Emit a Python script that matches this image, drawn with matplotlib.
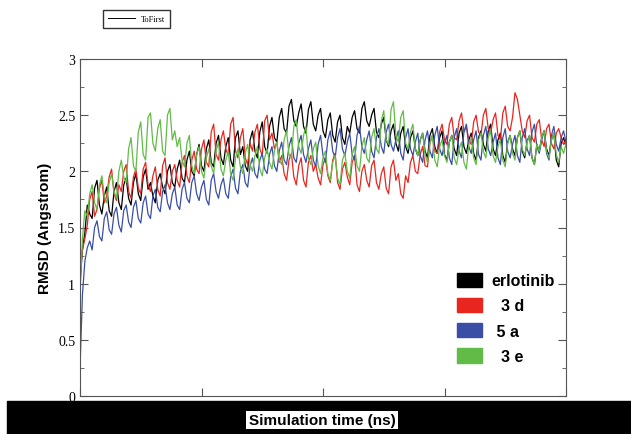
import numpy as np
import matplotlib
matplotlib.use("Agg")
import matplotlib.pyplot as plt
from matplotlib.lines import Line2D
from matplotlib.patches import Patch, Rectangle

# frames every 0.2 ns (t = 0, 0.2, ... 20) and the ones in between (t = 0.1, 0.3, ... 19.9)
t_main = np.round(np.arange(0, 20.01, 0.2), 2)
t_mid = np.round(np.arange(0.1, 20.0, 0.2), 2)

erlotinib = [1.00, 1.45, 1.62, 1.85, 1.70, 1.78, 1.65, 1.82, 1.72, 1.88,
             1.76, 1.90, 1.80, 1.95, 1.84, 1.78, 1.92, 1.86, 2.00, 1.90,
             2.02, 1.94, 2.10, 2.00, 2.15, 2.05, 2.20, 2.08, 2.25, 2.12,
             2.22, 2.10, 2.30, 2.15, 2.05, 2.28, 2.18, 2.35, 2.22, 2.40,
             2.30, 2.48, 2.38, 2.58, 2.45, 2.52, 2.40, 2.55, 2.42, 2.50,
             2.36, 2.46, 2.32, 2.44, 2.30, 2.40, 2.48, 2.38, 2.56, 2.45,
             2.50, 2.35, 2.42, 2.28, 2.36, 2.25, 2.34, 2.22, 2.30, 2.20,
             2.28, 2.18, 2.32, 2.22, 2.30, 2.15, 2.26, 2.20, 2.34, 2.22,
             2.28, 2.16, 2.30, 2.24, 2.36, 2.20, 2.28, 2.14, 2.26, 2.20,
             2.30, 2.18, 2.27, 2.12, 2.24, 2.30, 2.20, 2.28, 2.10, 2.25,
             2.22]
erlotinib_mid = [1.30, 1.70, 1.58, 1.92, 1.62, 1.86, 1.60, 1.90, 1.66, 1.94,
                 1.70, 1.98, 1.74, 2.02, 1.90, 1.72, 1.98, 1.80, 2.06, 1.86,
                 2.10, 1.90, 2.18, 1.96, 2.24, 2.00, 2.28, 2.04, 2.32, 2.06,
                 2.30, 2.04, 2.36, 2.22, 2.00, 2.36, 2.12, 2.44, 2.16, 2.48,
                 2.26, 2.56, 2.34, 2.64, 2.40, 2.60, 2.34, 2.62, 2.36, 2.56,
                 2.30, 2.52, 2.26, 2.50, 2.24, 2.34, 2.54, 2.34, 2.62, 2.40,
                 2.56, 2.30, 2.48, 2.22, 2.42, 2.18, 2.40, 2.16, 2.36, 2.14,
                 2.34, 2.12, 2.38, 2.16, 2.36, 2.10, 2.32, 2.14, 2.40, 2.16,
                 2.34, 2.10, 2.36, 2.18, 2.42, 2.14, 2.34, 2.08, 2.32, 2.14,
                 2.36, 2.12, 2.32, 2.06, 2.18, 2.36, 2.14, 2.34, 2.04, 2.30]

cmp_3d = [1.10, 1.40, 1.75, 1.60, 1.85, 1.72, 1.95, 1.80, 1.88, 2.00,
          1.82, 1.95, 1.85, 2.02, 1.88, 1.96, 1.84, 2.05, 1.90, 2.00,
          1.92, 2.08, 1.96, 2.10, 2.02, 2.20, 2.08, 2.35, 2.15, 2.28,
          2.20, 2.42, 2.18, 2.30, 2.12, 2.25, 2.35, 2.20, 2.45, 2.28,
          2.20, 2.08, 1.98, 2.10, 1.95, 2.05, 1.92, 2.08, 2.00, 1.94,
          2.06, 1.96, 2.10, 1.90, 2.02, 1.95, 2.08, 1.88, 2.00, 1.92,
          2.05, 1.90, 1.98, 1.85, 2.04, 1.92, 1.80, 1.96, 2.08, 2.00,
          2.15, 2.05, 2.25, 2.18, 2.35, 2.28, 2.42, 2.30, 2.45, 2.35,
          2.28, 2.44, 2.35, 2.50, 2.38, 2.46, 2.32, 2.52, 2.40, 2.48,
          2.64, 2.36, 2.45, 2.30, 2.42, 2.28, 2.38, 2.25, 2.34, 2.30,
          2.28]
cmp_3d_mid = [1.30, 1.52, 1.82, 1.66, 1.92, 1.78, 2.02, 1.74, 1.82, 2.06,
              1.76, 2.02, 1.80, 2.08, 1.82, 2.04, 1.78, 2.12, 1.84, 2.06,
              1.86, 2.14, 1.90, 2.18, 1.98, 2.28, 2.04, 2.42, 2.10, 2.36,
              2.14, 2.48, 2.12, 2.38, 2.06, 2.18, 2.42, 2.14, 2.50, 2.34,
              2.26, 2.14, 1.92, 2.16, 1.88, 2.12, 1.86, 2.14, 2.06, 1.88,
              2.12, 1.90, 2.16, 1.84, 2.08, 1.88, 2.14, 1.82, 2.06, 1.86,
              2.10, 1.84, 2.04, 1.80, 2.10, 1.98, 1.76, 1.90, 2.14, 1.98,
              2.22, 2.04, 2.32, 2.16, 2.42, 2.24, 2.48, 2.28, 2.52, 2.40,
              2.24, 2.50, 2.32, 2.56, 2.34, 2.52, 2.28, 2.58, 2.36, 2.70,
              2.50, 2.30, 2.50, 2.26, 2.46, 2.22, 2.42, 2.20, 2.38, 2.24]

cmp_5a = [0.25, 1.20, 1.38, 1.50, 1.42, 1.58, 1.48, 1.62, 1.52, 1.65,
          1.55, 1.68, 1.58, 1.72, 1.62, 1.78, 1.68, 1.82, 1.72, 1.80,
          1.70, 1.84, 1.76, 1.90, 1.80, 1.86, 1.75, 1.92, 1.82, 1.88,
          1.80, 1.95, 1.85, 2.00, 1.90, 2.05, 1.98, 2.10, 2.02, 2.15,
          2.05, 2.18, 2.10, 2.22, 2.12, 2.25, 2.15, 2.20, 2.10, 2.24,
          2.14, 2.28, 2.18, 2.30, 2.20, 2.26, 2.15, 2.32, 2.22, 2.28,
          2.18, 2.30, 2.22, 2.35, 2.24, 2.28, 2.16, 2.30, 2.20, 2.26,
          2.14, 2.28, 2.18, 2.32, 2.20, 2.25, 2.12, 2.30, 2.18, 2.35,
          2.22, 2.28, 2.15, 2.32, 2.20, 2.26, 2.12, 2.30, 2.18, 2.24,
          2.14, 2.30, 2.20, 2.35, 2.22, 2.28, 2.16, 2.32, 2.24, 2.30,
          2.26]
cmp_5a_mid = [0.90, 1.32, 1.30, 1.56, 1.38, 1.64, 1.44, 1.68, 1.46, 1.70,
              1.50, 1.74, 1.54, 1.78, 1.58, 1.84, 1.64, 1.88, 1.66, 1.86,
              1.66, 1.90, 1.72, 1.96, 1.74, 1.92, 1.70, 1.98, 1.76, 1.94,
              1.76, 2.02, 1.80, 2.06, 1.86, 2.12, 1.94, 2.16, 1.98, 2.22,
              2.00, 2.26, 2.06, 2.30, 2.08, 2.32, 2.08, 2.28, 2.04, 2.32,
              2.08, 2.36, 2.12, 2.38, 2.14, 2.34, 2.10, 2.40, 2.16, 2.36,
              2.12, 2.38, 2.16, 2.42, 2.18, 2.36, 2.10, 2.38, 2.14, 2.34,
              2.08, 2.36, 2.12, 2.40, 2.14, 2.32, 2.06, 2.38, 2.12, 2.42,
              2.16, 2.36, 2.10, 2.40, 2.14, 2.34, 2.06, 2.38, 2.12, 2.32,
              2.08, 2.38, 2.14, 2.42, 2.16, 2.36, 2.10, 2.40, 2.18, 2.36]

cmp_3e = [0.90, 1.65, 1.80, 1.72, 1.88, 1.78, 1.90, 1.82, 2.00, 1.95,
          2.20, 2.05, 2.35, 2.15, 2.48, 2.25, 2.38, 2.18, 2.50, 2.28,
          2.22, 2.10, 2.25, 2.05, 2.15, 2.00, 2.12, 2.05, 2.18, 2.02,
          2.10, 1.98, 2.12, 2.04, 2.16, 2.06, 2.14, 2.02, 2.12, 2.08,
          2.18, 2.10, 2.28, 2.15, 2.40, 2.22, 2.32, 2.12, 2.20, 2.05,
          2.12, 1.98, 2.08, 1.94, 2.10, 2.00, 2.15, 2.05, 2.22, 2.12,
          2.30, 2.20, 2.45, 2.28, 2.55, 2.32, 2.48, 2.25, 2.35, 2.20,
          2.28, 2.15, 2.25, 2.10, 2.22, 2.14, 2.26, 2.12, 2.20, 2.08,
          2.24, 2.12, 2.28, 2.18, 2.30, 2.14, 2.22, 2.10, 2.25, 2.16,
          2.30, 2.20, 2.26, 2.12, 2.24, 2.30, 2.18, 2.28, 2.15, 2.22,
          2.25]
cmp_3e_mid = [1.40, 1.60, 1.88, 1.66, 1.96, 1.72, 1.98, 1.76, 2.10, 1.90,
              2.30, 2.00, 2.44, 2.10, 2.52, 2.18, 2.46, 2.14, 2.56, 2.36,
              2.30, 2.04, 2.32, 1.98, 2.22, 1.94, 2.20, 1.98, 2.26, 1.96,
              2.18, 1.92, 2.20, 1.98, 2.24, 2.00, 2.22, 1.96, 2.20, 2.02,
              2.26, 2.06, 2.36, 2.12, 2.46, 2.16, 2.40, 2.06, 2.26, 1.98,
              2.18, 1.92, 2.14, 1.88, 2.16, 1.94, 2.22, 2.00, 2.30, 2.08,
              2.38, 2.16, 2.54, 2.24, 2.62, 2.26, 2.54, 2.20, 2.42, 2.14,
              2.34, 2.08, 2.32, 2.04, 2.28, 2.08, 2.32, 2.06, 2.26, 2.02,
              2.30, 2.06, 2.34, 2.12, 2.36, 2.08, 2.28, 2.04, 2.32, 2.10,
              2.36, 2.14, 2.32, 2.06, 2.18, 2.36, 2.12, 2.34, 2.08, 2.16]

names = ["erlotinib", "  3 d", " 5 a", "  3 e"]
colors = ["#000000", "#e8261f", "#3a4ea6", "#63bb47"]
series = [(erlotinib, erlotinib_mid), (cmp_3d, cmp_3d_mid),
          (cmp_5a, cmp_5a_mid), (cmp_3e, cmp_3e_mid)]

fig = plt.figure(figsize=(6.31, 4.35), dpi=100)
ax = fig.add_axes([80 / 631, 1 - 397 / 435, 486 / 631, 337 / 435])

for (main, mid), c in zip(series, colors):
    t = np.concatenate([t_main, t_mid])
    v = np.concatenate([main, mid])
    order = np.argsort(t)
    ax.plot(t[order], v[order], color=c, lw=0.9)

ax.set_xlim(0, 20)
ax.set_ylim(0, 3)
ax.set_xticks([0, 5, 10, 15, 20])
ax.set_xticklabels([])
ax.set_yticks(np.arange(0, 3.01, 0.5))
ax.set_yticklabels(["0", "0.5", "1", "1.5", "2", "2.5", "3"],
                   family="Liberation Serif", fontsize=10)
ax.set_yticks(np.arange(0, 3.01, 0.25), minor=True)
ax.tick_params(direction="in", which="both", top=True, right=True,
               color="#555555")
ax.tick_params(which="major", length=6)
ax.tick_params(which="minor", length=3)
for s in ax.spines.values():
    s.set_color("#555555")

ax.set_ylabel("RMSD (Angstrom)", fontsize=11, fontweight="bold",
              family="Liberation Sans", labelpad=4)

handles = [Patch(facecolor=c, edgecolor=c) for c in colors]
ax.legend(handles, names, loc="upper left", bbox_to_anchor=(0.762, 0.385),
          frameon=False, prop={"family": "Liberation Sans", "weight": "bold",
                               "size": 11.5},
          handlelength=1.6, handleheight=1.0, labelspacing=0.6,
          handletextpad=0.6, borderaxespad=0)

fig.legend([Line2D([], [], color="k", lw=0.7)], ["ToFirst"],
           loc="lower left", bbox_to_anchor=(103 / 631, 1 - 29 / 435),
           prop={"family": "Liberation Serif", "size": 6},
           fancybox=False, edgecolor="#333333", framealpha=1,
           handlelength=3.2, borderaxespad=0, borderpad=0.6)

fig.patches.append(Rectangle((7 / 631, 0), 1, 33 / 435,
                             transform=fig.transFigure, color="black",
                             zorder=10))
fig.text(322 / 631, 7 / 435, "Simulation time (ns)", ha="center",
         va="bottom", fontsize=11, fontweight="bold",
         family="Liberation Sans", zorder=11,
         bbox=dict(facecolor="white", edgecolor="none", pad=1.5))

fig.savefig("out.png", dpi=100)
